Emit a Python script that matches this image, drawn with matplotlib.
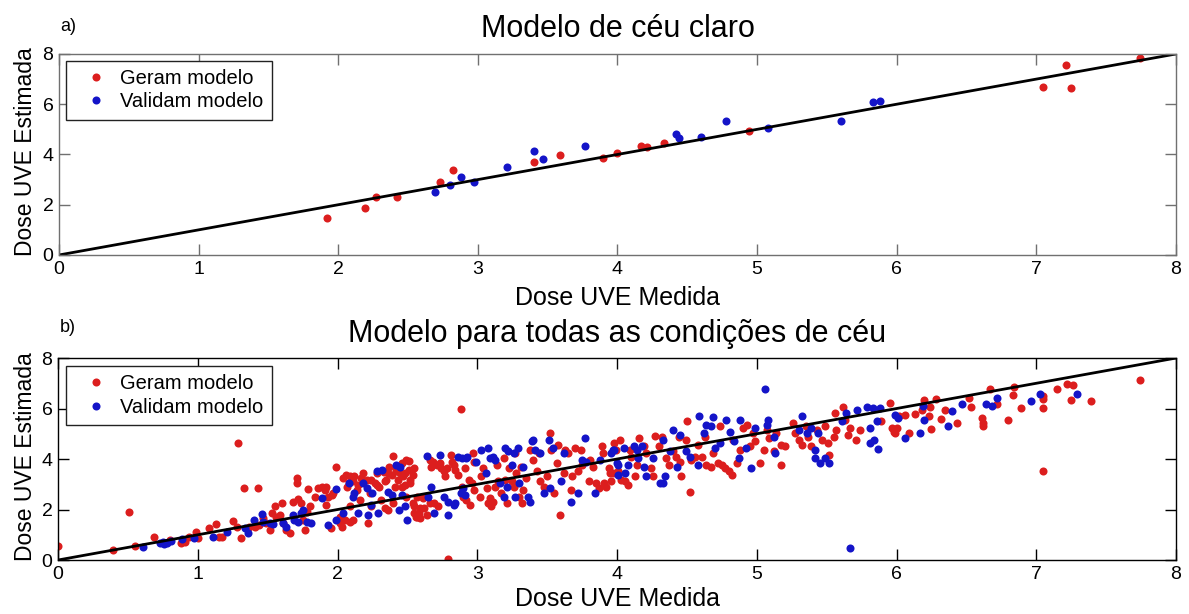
import numpy as np
import matplotlib
matplotlib.use('Agg')
import matplotlib.pyplot as plt

plt.rcParams['font.family'] = ['Liberation Sans', 'DejaVu Sans']

## Dados - modelo de ceu claro (dose medida, dose estimada)
claro_geram = [(1.92, 1.49), (2.19, 1.87), (2.27, 2.29), (2.42, 2.29), (2.73, 2.89),
               (2.82, 3.38), (3.40, 3.69), (3.59, 3.97), (3.90, 3.86), (4.00, 4.07),
               (4.17, 4.34), (4.21, 4.31), (4.33, 4.44), (4.94, 4.95), (7.05, 6.70),
               (7.21, 7.56), (7.25, 6.63), (7.74, 7.82)]
claro_validam = [(2.69, 2.49), (2.80, 2.79), (2.88, 3.09), (2.97, 2.92), (3.21, 3.51),
                 (3.40, 4.15), (3.47, 3.81), (3.77, 4.35), (4.42, 4.81), (4.44, 4.64),
                 (4.60, 4.69), (4.78, 5.32), (5.08, 5.07), (5.60, 5.35), (5.83, 6.10),
                 (5.88, 6.14)]

## Dados - modelo para todas as condicoes de ceu
todas_geram = [
    (0.00, 0.57), (0.39, 0.40), (0.51, 1.92), (0.55, 0.57), (0.69, 0.93), (0.80, 0.79),
    (0.88, 0.69), (0.91, 0.73), (0.94, 0.93), (0.99, 1.12), (1.00, 0.86), (1.08, 1.28),
    (1.13, 1.42), (1.15, 0.90), (1.17, 0.93), (1.25, 1.55), (1.28, 1.32), (1.29, 4.63),
    (1.31, 0.86), (1.33, 2.84), (1.37, 1.32), (1.43, 2.84), (1.41, 1.32), (1.44, 1.39),
    (1.47, 1.65), (1.49, 1.46), (1.52, 1.19), (1.53, 1.85), (1.55, 2.12), (1.56, 1.72),
    (1.59, 1.79), (1.60, 2.25), (1.61, 1.46), (1.63, 1.19), (1.66, 1.06), (1.68, 2.31),
    (1.71, 3.24), (1.71, 3.07), (1.72, 2.41), (1.74, 2.25), (1.75, 1.59), (1.77, 1.19),
    (1.78, 1.92), (1.79, 2.80), (1.80, 2.12), (1.84, 2.51), (1.86, 2.84), (1.89, 2.91),
    (1.91, 2.78), (1.92, 2.91), (1.93, 2.51), (1.96, 2.58), (1.92, 2.18), (1.95, 1.26),
    (1.99, 3.68), (1.97, 2.65),
    (2.02, 1.72), (2.03, 1.32), (2.05, 1.59), (2.06, 3.37), (2.08, 3.04), (2.09, 2.12),
    (2.11, 1.59), (2.12, 3.31), (2.15, 2.98), (2.16, 2.38), (2.18, 3.44), (2.21, 3.17),
    (2.22, 1.46), (2.23, 2.65), (2.24, 2.12), (2.27, 3.04), (2.28, 3.44), (2.30, 2.91),
    (2.31, 2.38), (2.33, 3.50), (2.35, 3.17), (2.36, 1.98), (2.37, 3.70), (2.39, 3.37),
    (2.40, 4.13), (2.41, 2.91), (2.42, 3.70), (2.43, 3.17), (2.45, 3.44), (2.46, 3.84),
    (2.47, 3.31), (2.48, 2.98), (2.49, 3.97), (2.51, 3.57), (2.52, 3.17), (2.54, 2.25),
    (2.55, 1.85), (2.57, 1.72), (2.54, 3.37), (2.57, 2.51),
    (2.04, 3.24), (2.07, 2.91), (2.09, 3.31), (2.11, 3.11), (2.14, 2.78), (2.17, 3.24),
    (2.24, 3.17), (2.28, 2.98), (2.34, 3.11), (2.36, 3.44), (2.42, 3.51), (2.48, 3.44),
    (2.51, 3.93), (2.52, 3.04), (2.09, 1.52), (2.02, 1.46), (2.34, 2.05), (2.40, 2.25),
    (2.46, 2.91), (2.49, 2.51),
    (2.55, 2.12), (2.56, 1.72), (2.58, 1.85), (2.59, 2.05), (2.55, 3.64), (2.61, 2.45),
    (2.64, 1.79), (2.66, 2.25), (2.67, 3.70), (2.66, 3.97), (2.68, 3.90), (2.71, 3.77),
    (2.73, 3.84), (2.74, 3.64), (2.69, 2.25), (2.72, 2.12), (2.76, 3.51), (2.77, 3.31),
    (2.78, 3.64), (2.79, 0.04), (2.81, 4.17), (2.82, 3.90), (2.83, 3.77), (2.84, 3.57),
    (2.86, 3.37), (2.88, 5.98), (2.89, 2.91), (2.90, 2.51), (2.91, 3.64), (2.92, 2.38),
    (2.94, 3.17), (2.95, 2.18), (2.96, 3.04), (2.97, 4.23), (2.98, 2.78), (2.98, 3.90),
    (2.59, 1.65), (2.62, 2.05),
    (3.02, 2.51), (3.03, 3.31), (3.04, 3.64), (3.07, 2.84), (3.08, 2.25), (3.09, 2.45),
    (3.10, 2.12), (3.11, 2.31), (3.13, 2.91), (3.14, 3.77), (3.15, 3.11), (3.17, 2.65),
    (3.19, 4.03), (3.20, 3.17), (3.21, 2.25), (3.23, 3.64), (3.25, 3.11), (3.26, 2.91),
    (3.27, 4.23), (3.28, 3.44), (3.30, 2.51), (3.31, 3.70), (3.32, 2.25), (3.33, 2.78),
    (3.35, 3.24), (3.38, 4.37), (3.40, 3.97), (3.43, 3.51), (3.44, 4.23), (3.45, 3.11),
    (3.48, 2.91), (3.50, 3.31), (3.52, 5.03), (3.53, 4.37), (3.55, 2.65), (3.57, 3.84),
    (3.58, 4.56), (3.59, 1.79), (3.62, 3.44), (3.63, 4.37), (3.65, 4.23), (3.67, 2.78),
    (3.68, 3.31), (3.70, 4.43), (3.72, 3.51), (3.74, 4.37), (3.75, 3.77), (3.80, 3.11),
    (3.81, 3.97), (3.83, 3.70), (3.85, 3.04), (3.87, 2.84), (3.89, 4.50), (3.90, 4.23),
    (3.91, 3.04), (3.92, 2.91), (3.94, 3.64), (3.95, 3.44), (3.98, 4.63), (3.99, 4.37),
    (3.96, 3.11), (3.97, 3.44), (4.01, 3.51), (4.02, 4.76), (4.03, 3.17), (4.06, 3.11),
    (4.08, 2.98), (4.09, 4.37), (4.10, 4.10), (4.13, 3.31), (4.14, 3.77), (4.16, 4.83),
    (4.19, 4.50), (4.21, 4.23), (4.24, 3.64), (4.26, 3.31), (4.27, 4.92), (4.30, 4.50),
    (4.32, 4.89), (4.35, 4.03), (4.37, 3.77), (4.40, 4.30), (4.42, 4.10), (4.44, 4.89),
    (4.45, 3.90), (4.46, 3.31), (4.49, 4.76), (4.50, 5.49), (4.52, 2.71), (4.53, 3.97),
    (4.56, 4.10), (4.58, 4.56), (4.61, 4.10), (4.63, 4.89), (4.64, 3.77), (4.67, 3.70),
    (4.69, 4.23), (4.72, 3.84), (4.74, 5.29), (4.75, 3.77), (4.77, 3.64), (4.80, 3.51),
    (4.82, 3.37), (4.83, 4.76), (4.86, 3.84), (4.88, 4.37), (4.90, 5.22), (4.93, 5.36),
    (4.95, 4.50), (4.97, 5.03), (4.99, 4.70), (5.02, 3.84), (5.05, 4.37), (5.07, 5.16),
    (5.09, 4.83), (5.12, 4.30), (5.14, 5.03), (5.17, 4.56), (5.17, 3.77), (5.20, 4.50),
    (5.26, 5.42), (5.27, 5.03), (5.30, 4.76), (5.32, 4.56), (5.35, 5.29), (5.37, 4.89),
    (5.39, 4.50), (5.43, 5.16), (5.47, 4.76), (5.49, 5.29), (5.51, 4.63), (5.52, 4.17),
    (5.55, 4.89), (5.56, 5.82), (5.57, 5.16), (5.62, 6.08), (5.63, 5.56), (5.65, 4.96),
    (5.67, 5.22), (5.71, 4.76), (5.74, 5.16), (5.89, 5.49), (5.95, 6.22), (5.97, 5.22),
    (5.99, 5.03),
    (5.98, 5.09), (6.00, 5.22), (6.02, 5.69), (6.06, 5.75), (6.09, 5.03), (6.13, 5.79),
    (6.18, 5.95), (6.20, 6.32), (6.23, 5.69), (6.24, 6.06), (6.25, 5.20), (6.28, 6.38),
    (6.32, 5.58), (6.35, 5.95), (6.43, 5.42), (6.52, 6.42), (6.53, 6.06), (6.61, 5.62),
    (6.62, 5.42), (6.62, 5.32), (6.67, 6.77), (6.72, 6.16), (6.80, 5.53), (6.83, 6.55),
    (6.84, 6.85), (6.89, 6.02), (7.05, 6.48), (7.05, 6.02), (7.05, 6.38), (7.05, 3.51),
    (7.15, 6.77), (7.22, 6.96), (7.26, 6.92), (7.25, 6.35), (7.39, 6.28), (7.74, 7.12),
]
todas_validam = [
    (0.61, 0.53), (0.73, 0.66), (0.75, 0.73), (0.76, 0.62), (0.78, 0.69), (0.81, 0.77),
    (0.89, 0.83), (0.97, 0.86), (1.11, 0.90), (1.21, 1.12), (1.34, 1.26), (1.36, 1.06),
    (1.40, 1.59), (1.46, 1.81), (1.47, 1.52), (1.52, 1.46), (1.54, 1.43), (1.61, 1.46),
    (1.63, 1.32), (1.68, 1.79), (1.69, 1.59), (1.72, 1.52), (1.74, 1.85), (1.75, 1.98),
    (1.78, 1.52), (1.81, 1.46), (1.89, 2.45), (1.93, 1.39), (1.99, 1.59), (1.99, 2.80),
    (2.04, 1.88), (2.08, 3.04), (2.11, 2.51), (2.12, 2.65), (2.15, 1.85), (2.18, 3.04),
    (2.21, 2.84), (2.22, 1.79), (2.24, 2.18), (2.25, 2.65), (2.28, 3.51), (2.29, 1.85),
    (2.32, 3.57), (2.36, 2.71), (2.39, 2.58), (2.42, 3.77), (2.44, 1.98), (2.45, 3.70),
    (2.46, 2.58), (2.48, 2.12), (2.50, 1.59),
    (2.64, 4.13), (2.65, 2.51), (2.67, 2.91), (2.69, 1.85), (2.73, 4.17), (2.76, 2.51),
    (2.79, 1.79), (2.79, 2.31), (2.83, 2.18), (2.84, 2.25), (2.86, 4.10), (2.88, 2.65),
    (2.89, 4.03), (2.90, 2.84), (2.91, 2.58), (2.92, 4.03), (2.93, 4.10),
    (2.99, 3.90), (3.03, 4.37), (3.06, 3.44), (3.08, 4.43), (3.09, 4.03), (3.11, 4.10),
    (3.13, 3.97), (3.16, 3.04), (3.19, 2.51), (3.20, 4.43), (3.21, 2.91), (3.22, 4.30),
    (3.25, 3.77), (3.26, 4.23), (3.27, 2.51), (3.29, 4.43), (3.30, 3.04), (3.33, 3.70),
    (3.36, 2.51), (3.38, 2.31), (3.39, 4.70), (3.40, 4.76), (3.41, 4.37), (3.45, 4.23),
    (3.48, 2.65), (3.51, 4.76), (3.52, 2.84), (3.54, 4.43), (3.60, 3.11), (3.62, 4.23),
    (3.67, 2.31), (3.72, 2.65), (3.75, 3.97), (3.77, 4.83), (3.78, 3.90), (3.84, 2.65),
    (3.88, 3.97), (3.96, 4.23), (3.98, 4.37), (4.01, 3.77),
    (3.97, 4.37), (4.00, 3.84), (4.01, 3.37), (4.05, 4.43), (4.06, 3.44), (4.08, 3.77),
    (4.12, 4.50), (4.14, 4.37), (4.15, 4.03), (4.18, 4.50), (4.19, 3.70), (4.21, 3.31),
    (4.26, 4.03), (4.31, 3.04), (4.33, 3.04), (4.33, 4.76), (4.34, 3.31), (4.38, 4.30),
    (4.40, 5.16), (4.43, 3.70), (4.45, 4.96), (4.49, 4.30), (4.52, 4.10), (4.58, 3.77),
    (4.59, 5.69), (4.62, 5.03), (4.64, 5.36), (4.67, 5.29), (4.69, 5.65), (4.70, 4.43),
    (4.74, 4.63), (4.78, 5.53), (4.81, 5.09), (4.84, 4.70), (4.87, 4.03), (4.88, 5.53),
    (4.92, 4.43), (4.96, 3.64), (4.99, 5.22), (5.06, 6.77), (5.07, 5.36), (5.08, 5.56),
    (5.12, 4.89), (5.13, 4.23), (5.30, 5.16), (5.32, 5.69), (5.36, 5.03), (5.39, 5.22),
    (5.42, 4.37), (5.42, 4.03), (5.44, 5.03), (5.45, 3.84), (5.49, 4.03), (5.52, 3.84),
    (5.61, 5.49), (5.64, 5.82), (5.67, 0.49), (5.72, 5.95), (5.79, 6.08),
    (5.81, 5.22), (5.81, 4.63), (5.83, 6.02), (5.84, 4.76), (5.86, 5.49), (5.87, 4.39),
    (5.88, 6.02),
    (5.99, 5.75), (6.01, 5.62), (6.06, 4.83), (6.17, 5.03), (6.19, 6.11), (6.20, 5.53),
    (6.37, 5.32), (6.40, 5.90), (6.47, 6.16), (6.64, 6.16), (6.68, 6.11), (6.72, 6.42),
    (6.96, 6.28), (7.03, 6.59), (7.29, 6.59),
]

## Reta 1:1 (dose estimada = dose medida)
reta = np.array([0, 8])

vermelho = '#dc1e1e'
azul = '#1414c8'


def painel(ax, geram, validam, cor_borda, legenda_pos):
    gx, gy = np.array(geram).T
    vx, vy = np.array(validam).T
    ax.plot(gx, gy, 'o', color=vermelho, ms=5.8, mew=0, label='Geram modelo')
    ax.plot(vx, vy, 'o', color=azul, ms=5.8, mew=0, label='Validam modelo')
    ax.plot(reta, reta, '-', color='black', lw=2)

    ax.set_xlim(0, 8)
    ax.set_ylim(0, 8)
    ax.set_xticks(range(0, 9))
    ax.set_yticks(range(0, 9, 2))
    ax.tick_params(direction='in', top=True, right=True, length=8, width=1,
                   labelsize=14, pad=4, color=cor_borda)
    for s in ax.spines.values():
        s.set_color(cor_borda)
        s.set_linewidth(1)

    leg = ax.legend(loc='upper left', bbox_to_anchor=legenda_pos, borderaxespad=0,
                    fontsize=14.5, numpoints=1, handlelength=2.2, handletextpad=0.1,
                    borderpad=0.4, labelspacing=0.22, fancybox=False, framealpha=1)
    leg.get_frame().set_edgecolor('#222222')
    leg.get_frame().set_linewidth(1)


fig = plt.figure(figsize=(11.89, 6.14), dpi=100)

# a) ceu claro
ax1 = fig.add_axes([0.0496, 0.5847, 0.9394, 0.3274])
painel(ax1, claro_geram, claro_validam, '#707070', (0.0063, 0.965))
ax1.set_title('Modelo de céu claro', fontsize=22, pad=12)
ax1.set_xlabel('Dose UVE Medida', fontsize=18)
ax1.set_ylabel('Dose UVE Estimada', fontsize=16.5)
ax1.xaxis.set_label_coords(0.5, -0.155)
ax1.yaxis.set_label_coords(-0.0197, 0.514)

# b) todas as condicoes de ceu
ax2 = fig.add_axes([0.0488, 0.0879, 0.9403, 0.329])
painel(ax2, todas_geram, todas_validam, 'black', (0.0072, 0.960))
ax2.set_title('Modelo para todas as condições de céu', fontsize=22, pad=11.5)
ax2.set_xlabel('Dose UVE Medida', fontsize=18)
ax2.set_ylabel('Dose UVE Estimada', fontsize=16.5)
ax2.xaxis.set_label_coords(0.5, -0.135)
ax2.yaxis.set_label_coords(-0.0188, 0.511)

fig.text(0.0505, 0.9495, 'a)', fontsize=13)
fig.text(0.0505, 0.4593, 'b)', fontsize=13)

fig.savefig('out.png', dpi=100)
